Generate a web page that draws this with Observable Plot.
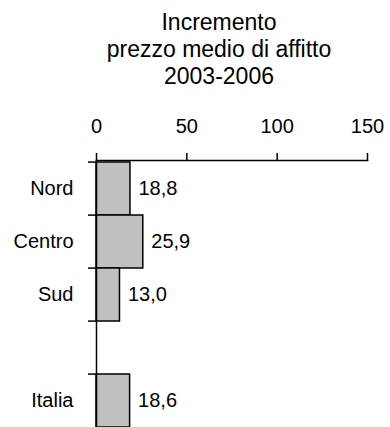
<!DOCTYPE html>
<html>
<head>
<meta charset="utf-8">
<script src="https://cdn.jsdelivr.net/npm/d3@7"></script>
<script src="https://cdn.jsdelivr.net/npm/@observablehq/plot@0.6"></script>
<style>
  html, body { margin: 0; padding: 0; background: #fff; overflow: hidden; }
  body { width: 390px; height: 427px; font-family: "Liberation Sans", Arial, sans-serif; }
  #title {
    box-sizing: border-box;
    height: 90px;
    padding-top: 9px;
    margin-left: 48px;
    text-align: center;
    font-size: 23px;
    line-height: 27px;
    color: #000;
  }
</style>
</head>
<body>
<div id="title">Incremento<br>prezzo medio di affitto<br>2003-2006</div>
<div id="chart"></div>
<script>
// Area geografica (la riga vuota separa il totale nazionale)
const categories = ["Nord", "Centro", "Sud", "", "Italia"];
const areas = ["Nord", "Centro", "Sud", "Italia"];
const increments = [18.8, 25.9, 13.0, 18.6];
const xTicks = [0, 50, 100, 150];

const rows = areas.map((area, i) => ({area, value: increments[i]}));

const width = 390;
const height = 339;
const marginTop = 70;
const marginBottom = 0;
const step = (height - marginTop - marginBottom) / categories.length;

const fmt = (v) => v.toFixed(1).replace(".", ",");

const chart = Plot.plot({
  width,
  height,
  marginTop,
  marginBottom,
  marginLeft: 96,
  marginRight: 23,
  style: {fontFamily: "'Liberation Sans', Arial, sans-serif", fontSize: "20px", color: "#000", background: "#fff"},
  x: {domain: [0, 150], axis: null},
  y: {domain: categories, padding: 0, axis: null},
  marks: [
    Plot.barX(rows, {y: "area", x: "value", fill: "#c0c0c0", stroke: "#000", strokeWidth: 1.5}),
    Plot.frame({anchor: "top", stroke: "#000", strokeWidth: 1.5}),
    Plot.frame({anchor: "left", stroke: "#000", strokeWidth: 1.5}),
    Plot.axisX({anchor: "top", label: null, ticks: xTicks, tickSize: 8, tickPadding: 20, strokeWidth: 1.5, fontSize: 20, tickFormat: (d) => String(d)}),
    // tacche sui bordi delle fasce
    Plot.axisY({anchor: "left", label: null, tickSize: 8, strokeWidth: 1.5, dy: -step / 2, tickFormat: () => ""}),
    Plot.axisY({anchor: "left", label: null, tickSize: 0, tickPadding: 23, fontSize: 20, tickFormat: (d) => d}),
    Plot.text(rows, {y: "area", x: "value", text: (d) => fmt(d.value), textAnchor: "start", dx: 8, fontSize: 20, fill: "#000"})
  ]
});

document.getElementById("chart").appendChild(chart);
</script>
</body>
</html>
